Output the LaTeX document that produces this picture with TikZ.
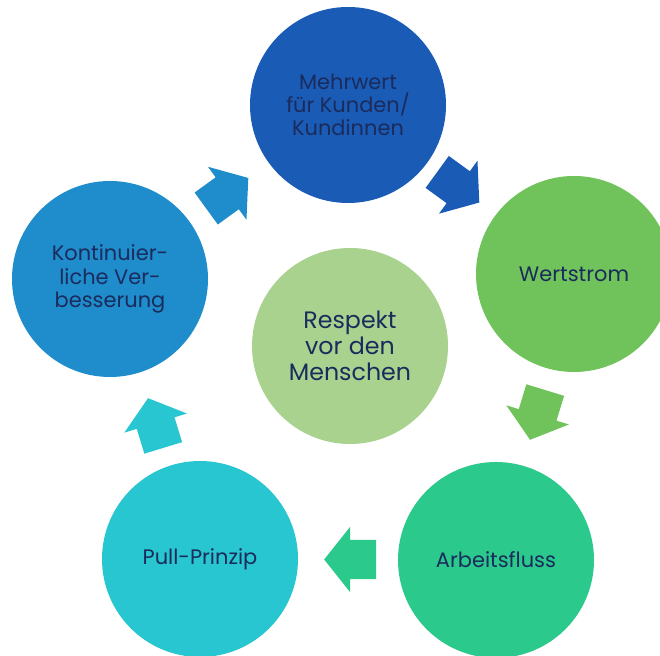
\documentclass[tikz,border=0pt]{standalone}
\usepackage{fontspec}
\setmainfont{Poppins}
\usetikzlibrary{shapes.arrows,calc}

\definecolor{navy}{HTML}{1A2B5C}
\definecolor{deepblue}{HTML}{1A5BB5}
\definecolor{leafgreen}{HTML}{70C35A}
\definecolor{mint}{HTML}{2BC98B}
\definecolor{turquoise}{HTML}{27C6D0}
\definecolor{skyblue}{HTML}{1F8CCC}
\definecolor{palegreen}{HTML}{A9D28F}

\tikzset{
  bubble/.style={circle, minimum size=147pt, inner sep=0pt, text=navy,
    align=center, font=\fontsize{15.7}{17.5}\selectfont},
  core/.style={bubble, font=\fontsize{17.8}{19.5}\selectfont},
  flow/.style={single arrow, draw=none, inner xsep=0pt, inner ysep=14.6pt,
    minimum height=39pt, single arrow head extend=9.75pt,
    single arrow tip angle=103, rotate=#1, xshift=-7.5pt}
}

\begin{document}
\begin{tikzpicture}[x=0.75pt,y=0.75pt]
  \useasboundingbox (0,0) rectangle (660,656);

  % the five principles around the cycle
  \node[bubble, fill=deepblue] (kunden) at (348,551) {Mehrwert\\für Kunden/\\Kundinnen};
  \node[bubble, fill=leafgreen] (wert) at (574,382) {Wertstrom};
  \node[bubble, fill=mint] (fluss) at (496,96) {Arbeitsfluss};
  \node[bubble, fill=turquoise] (pull) at (200,97) {Pull-Prinzip};
  \node[bubble, fill=skyblue] (kvp) at (110,377) {Kontinuier-\\liche Ver-\\besserung};

  % centre
  \node[core, fill=palegreen] (respekt) at (350,310) {Respekt\\vor den\\Menschen};

  % block arrows between neighbours
  \node[flow=36, fill=skyblue] (a1) at ($(kvp)!0.5!(kunden)$) {};
  \node[flow=-36, fill=deepblue] (a2) at ($(kunden)!0.5!(wert)+(-1,1)$) {};
  \node[flow=-107, fill=leafgreen] (a3) at ($(wert)!0.5!(fluss)+(2,0)$) {};
  \node[flow=180, fill=mint] (a4) at ($(fluss)!0.5!(pull)$) {};
  \node[flow=107, fill=turquoise] (a5) at ($(pull)!0.5!(kvp)+(0,-2)$) {};
\end{tikzpicture}
\end{document}
